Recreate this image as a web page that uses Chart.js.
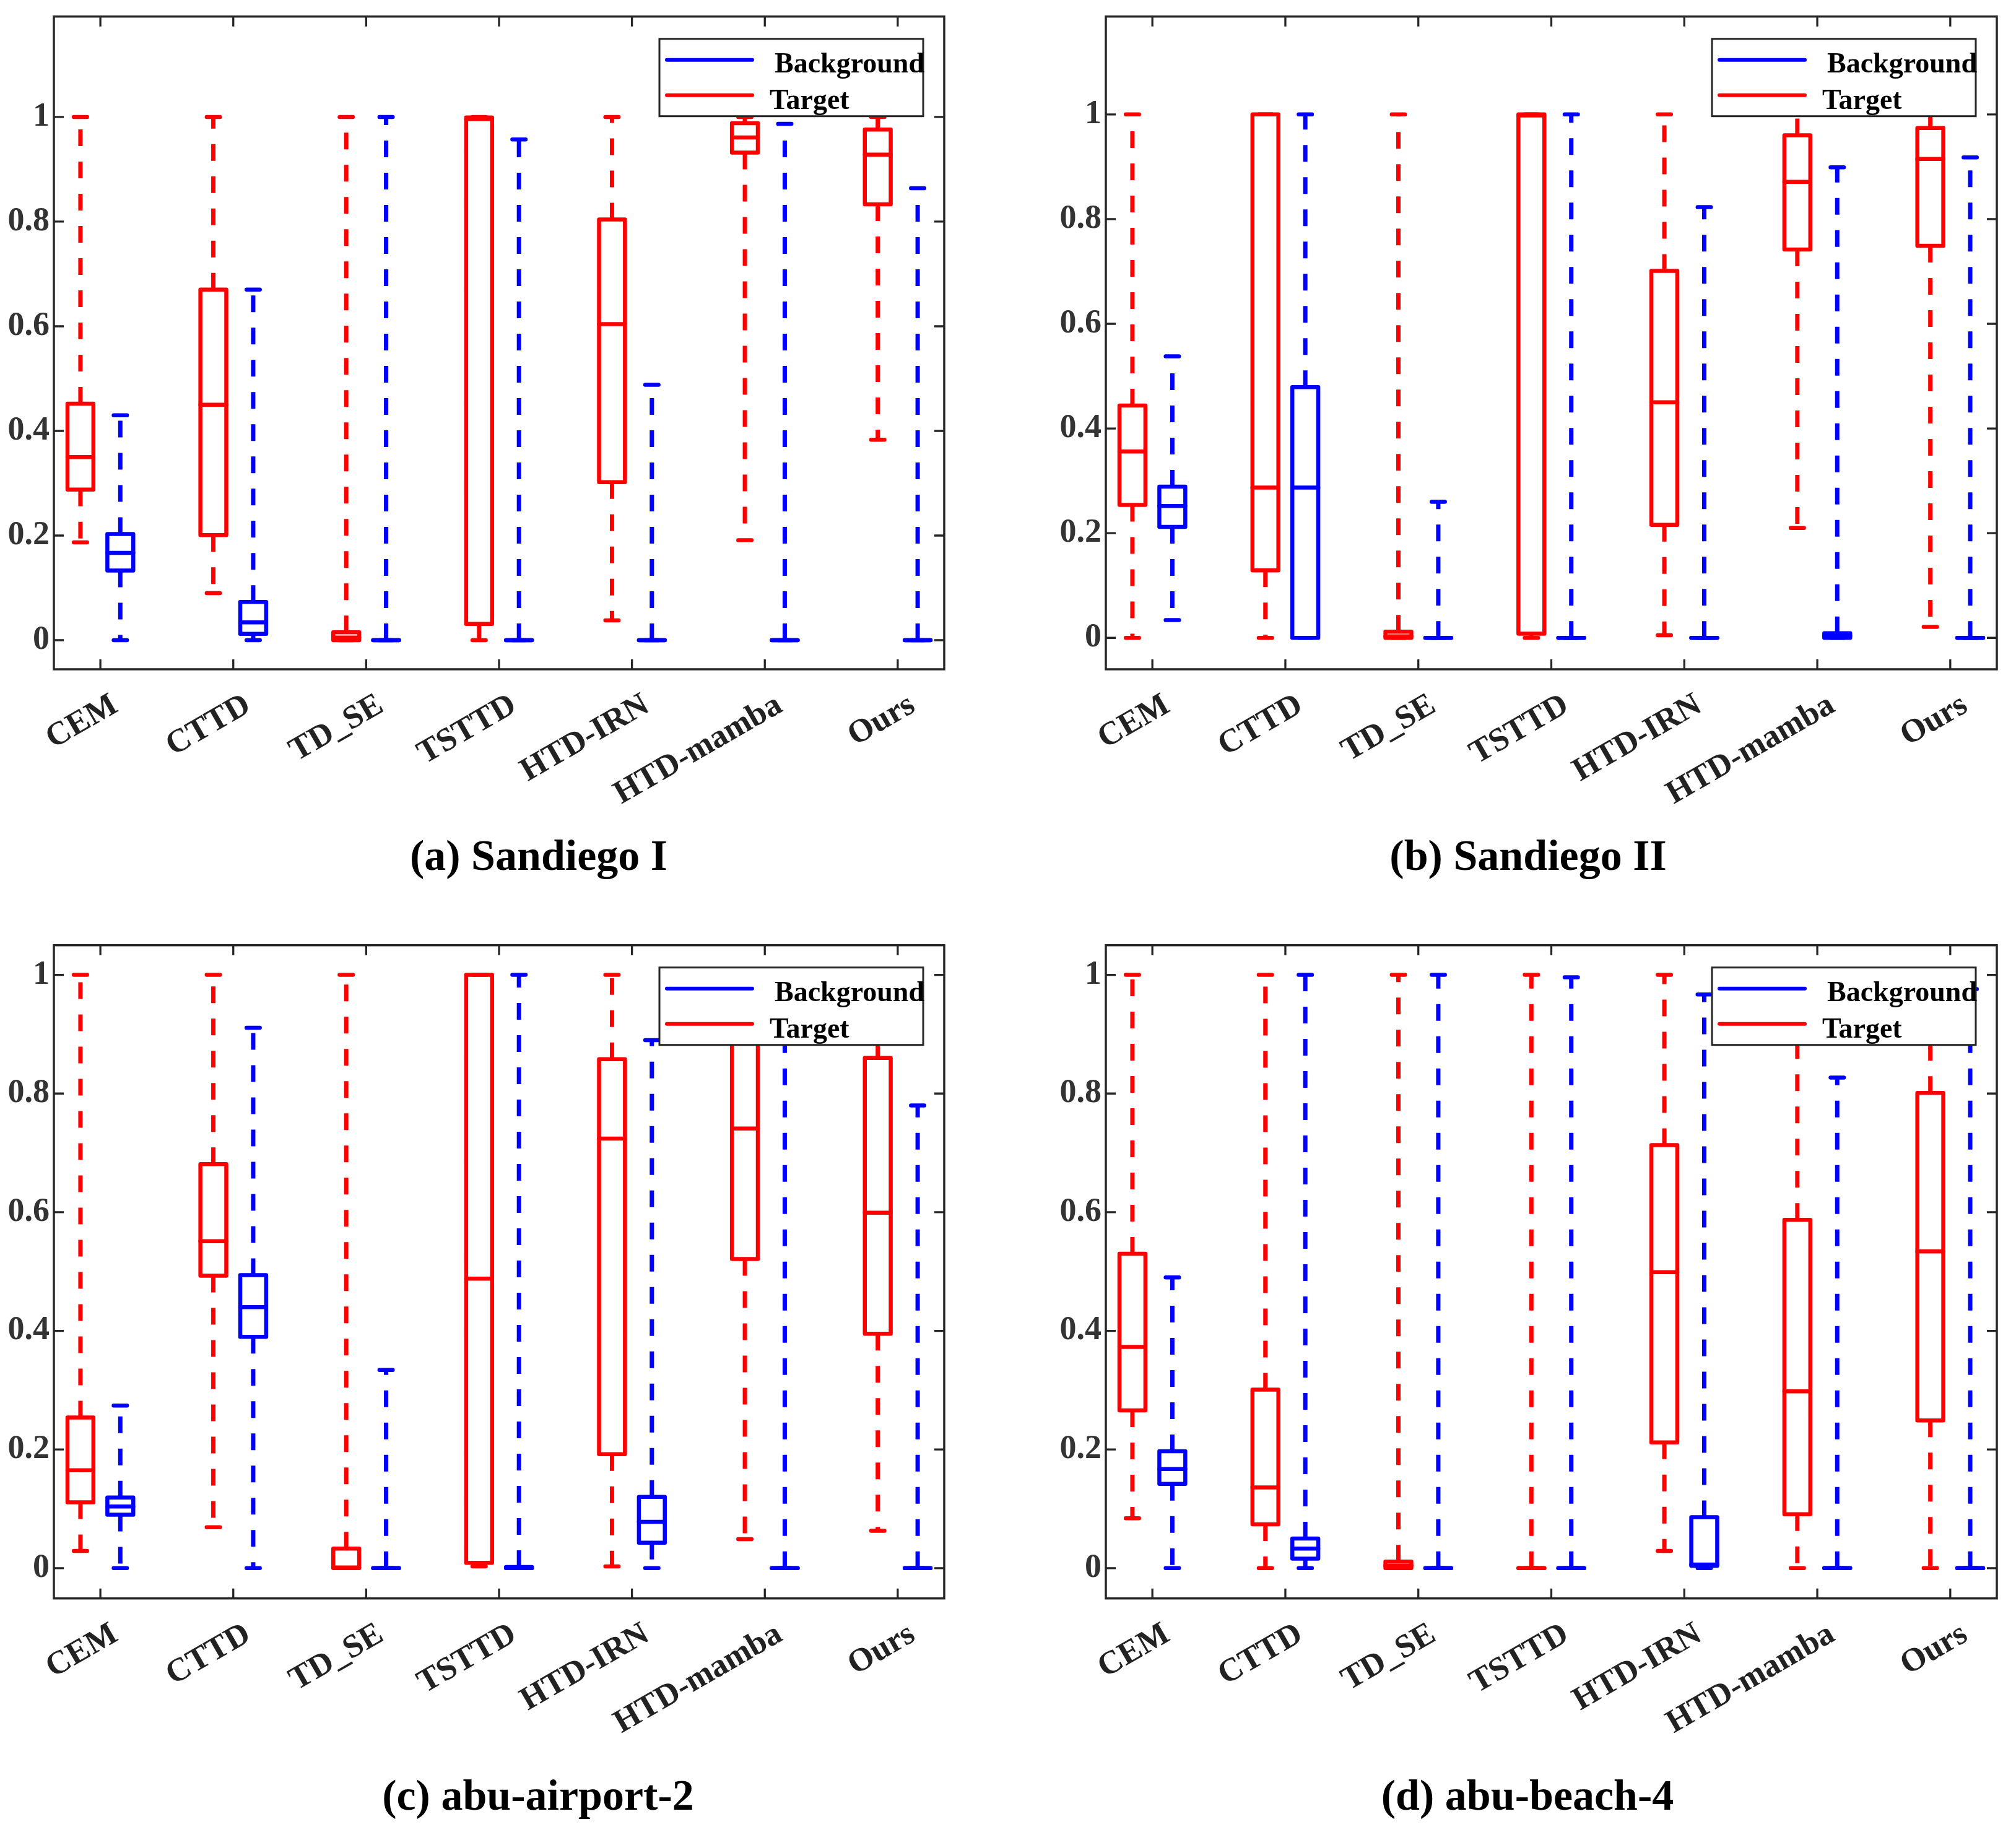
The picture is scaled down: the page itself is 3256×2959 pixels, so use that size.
<!DOCTYPE html>
<html>
<head>
<meta charset="utf-8">
<script src="https://cdn.jsdelivr.net/npm/chart.js@4.4.1/dist/chart.umd.min.js"></script>
<style>
  html, body { margin: 0; padding: 0; background: #fff; }
  #page { position: relative; width: 3256px; height: 2959px; background: #fff; overflow: hidden; }
  #page canvas { position: absolute; }
  .sub { position: absolute; transform: translate(-50%, -50%); font: bold 70px "Liberation Serif", "Times New Roman", serif; color: #000; white-space: nowrap; }
</style>
</head>
<body>
<div id="page"></div>
<script>
// categories and ticks
const methods = ["CEM", "CTTD", "TD_SE", "TSTTD", "HTD-IRN", "HTD-mamba", "Ours"];
const yTicks = [0, 0.2, 0.4, 0.6, 0.8, 1];
const yTickLabels = ["0", "0.2", "0.4", "0.6", "0.8", "1"];
const seriesNames = ["Background", "Target"];
const titles = ["(a) Sandiego I", "(b) Sandiego II", "(c) abu-airport-2", "(d) abu-beach-4"];

// five-number summaries per method: [min, q1, median, q3, max]
const sandiego1Target = [
  [0.187, 0.288, 0.350, 0.452, 1.0],
  [0.090, 0.201, 0.450, 0.670, 1.0],
  [0.0, 0.0, 0.005, 0.015, 1.0],
  [0.0, 0.031, 0.996, 0.999, 1.0],
  [0.038, 0.302, 0.604, 0.804, 1.0],
  [0.191, 0.932, 0.961, 0.988, 1.0],
  [0.383, 0.833, 0.928, 0.976, 1.0]
];
const sandiego1Background = [
  [0.0, 0.133, 0.167, 0.203, 0.430],
  [0.0, 0.012, 0.034, 0.073, 0.670],
  [0.0, 0.0, 0.0, 0.0, 1.0],
  [0.0, 0.0, 0.0, 0.0, 0.957],
  [0.0, 0.0, 0.0, 0.0, 0.488],
  [0.0, 0.0, 0.0, 0.0, 0.987],
  [0.0, 0.0, 0.0, 0.0, 0.864]
];
const sandiego2Target = [
  [0.0, 0.254, 0.356, 0.444, 1.0],
  [0.0, 0.129, 0.287, 1.0, 1.0],
  [0.0, 0.0, 0.003, 0.012, 1.0],
  [0.0, 0.008, 0.998, 1.0, 1.0],
  [0.005, 0.216, 0.450, 0.701, 1.0],
  [0.210, 0.742, 0.871, 0.960, 1.0],
  [0.021, 0.749, 0.915, 0.974, 1.0]
];
const sandiego2Background = [
  [0.034, 0.212, 0.252, 0.289, 0.538],
  [0.0, 0.0, 0.287, 0.479, 1.0],
  [0.0, 0.0, 0.0, 0.0, 0.260],
  [0.0, 0.0, 0.0, 0.0, 1.0],
  [0.0, 0.0, 0.0, 0.0, 0.823],
  [0.0, 0.0, 0.004, 0.009, 0.899],
  [0.0, 0.0, 0.0, 0.0, 0.918]
];
const airportTarget = [
  [0.029, 0.111, 0.165, 0.254, 1.0],
  [0.069, 0.493, 0.551, 0.681, 1.0],
  [0.0, 0.0, 0.001, 0.033, 1.0],
  [0.003, 0.009, 0.488, 1.0, 1.0],
  [0.003, 0.192, 0.724, 0.858, 1.0],
  [0.049, 0.521, 0.741, 0.950, 1.0],
  [0.063, 0.395, 0.599, 0.860, 1.0]
];
const airportBackground = [
  [0.0, 0.090, 0.104, 0.119, 0.274],
  [0.0, 0.390, 0.440, 0.494, 0.911],
  [0.0, 0.0, 0.0, 0.0, 0.334],
  [0.0, 0.0, 0.0, 0.002, 1.0],
  [0.0, 0.043, 0.078, 0.120, 0.890],
  [0.0, 0.0, 0.0, 0.0, 1.0],
  [0.0, 0.0, 0.0, 0.0, 0.780]
];
const beachTarget = [
  [0.084, 0.266, 0.373, 0.530, 1.0],
  [0.0, 0.074, 0.136, 0.301, 1.0],
  [0.0, 0.0, 0.004, 0.011, 1.0],
  [0.0, 0.0, 0.0, 0.0, 1.0],
  [0.029, 0.212, 0.499, 0.713, 1.0],
  [0.0, 0.091, 0.298, 0.587, 1.0],
  [0.0, 0.249, 0.534, 0.801, 1.0]
];
const beachBackground = [
  [0.0, 0.142, 0.167, 0.197, 0.490],
  [0.0, 0.016, 0.033, 0.050, 1.0],
  [0.0, 0.0, 0.0, 0.0, 1.0],
  [0.0, 0.0, 0.0, 0.0, 0.996],
  [0.0, 0.004, 0.006, 0.086, 0.967],
  [0.0, 0.0, 0.0, 0.0, 0.827],
  [0.0, 0.0, 0.0, 0.0, 0.976]
];

// y-axis limits of each panel (MATLAB autoscale)
const yLimits = [[-0.0556, 1.192], [-0.060, 1.187], [-0.051, 1.050], [-0.051, 1.050]];

// ---- styling / layout ----
const RED = "#ff0000";
const BLUE = "#0000ff";
const AXIS = "#262626";
const SERIF = '"Liberation Serif", "Times New Roman", serif';
const groupShift = 0.15;  // red left, blue right of the tick
const boxHalf = 0.0975;
const capHalf = 0.05;

const panels = [
  { left: 0,    top: 0,    w: 1628, h: 1450, area: { l: 87,  t: 26.7, r: 1525, b: 1081 },   tx: 870,  ty: 1382 },
  { left: 1628, top: 0,    w: 1628, h: 1450, area: { l: 158, t: 26.7, r: 1597, b: 1081 },   tx: 2468, ty: 1382 },
  { left: 0,    top: 1480, w: 1628, h: 1479, area: { l: 87,  t: 46.7, r: 1525, b: 1101.7 }, tx: 869,  ty: 2900 },
  { left: 1628, top: 1480, w: 1628, h: 1479, area: { l: 158, t: 46.7, r: 1597, b: 1101.7 }, tx: 2467, ty: 2900 }
];
const panelData = [
  [sandiego1Target, sandiego1Background],
  [sandiego2Target, sandiego2Background],
  [airportTarget, airportBackground],
  [beachTarget, beachBackground]
];

// turn summaries into line paths (null breaks the path)
function boxPaths(stats, shift) {
  const whisk = [], caps = [], box = [], med = [];
  stats.forEach(function (s, i) {
    const lo = s[0], q1 = s[1], m = s[2], q3 = s[3], hi = s[4];
    const x = i + shift;
    whisk.push({ x: x, y: q3 }, { x: x, y: hi }, { x: x, y: null },
               { x: x, y: q1 }, { x: x, y: lo }, { x: x, y: null });
    caps.push({ x: x - capHalf, y: hi }, { x: x + capHalf, y: hi }, { x: x, y: null },
              { x: x - capHalf, y: lo }, { x: x + capHalf, y: lo }, { x: x, y: null });
    box.push({ x: x - boxHalf, y: q1 }, { x: x - boxHalf, y: q3 }, { x: x + boxHalf, y: q3 },
             { x: x + boxHalf, y: q1 }, { x: x - boxHalf, y: q1 }, { x: x, y: null });
    med.push({ x: x - boxHalf, y: m }, { x: x + boxHalf, y: m }, { x: x, y: null });
  });
  return { whisk: whisk, caps: caps, box: box, med: med };
}

function lineSet(data, color, width, dash, cap) {
  return {
    type: "line",
    data: data,
    borderColor: color,
    borderWidth: width,
    borderDash: dash || [],
    borderCapStyle: cap || "round",
    borderJoinStyle: "round",
    pointRadius: 0,
    pointHoverRadius: 0,
    spanGaps: false,
    tension: 0,
    fill: false
  };
}

function groupSets(stats, shift, color) {
  const p = boxPaths(stats, shift);
  return [
    lineSet(p.whisk, color, 7, [27, 25], "butt"),
    lineSet(p.caps, color, 6.5),
    lineSet(p.box, color, 6.5),
    lineSet(p.med, color, 6.5)
  ];
}

// legend box inside the plot, top right
const boxLegend = {
  id: "boxLegend",
  afterDatasetsDraw(chart) {
    const ctx = chart.ctx, a = chart.chartArea;
    const w = 426, h = 125;
    const L = a.right - 34 - w, T = a.top + 36;
    ctx.save();
    ctx.fillStyle = "#fff";
    ctx.fillRect(L, T, w, h);
    ctx.strokeStyle = AXIS;
    ctx.lineWidth = 3;
    ctx.strokeRect(L, T, w, h);
    const colors = [BLUE, RED];
    const rows = [{ ly: 34, tx: 186, ty: 54 }, { ly: 91, tx: 178, ty: 113 }];
    ctx.lineCap = "round";
    ctx.font = "bold 46px " + SERIF;
    ctx.textBaseline = "alphabetic";
    ctx.textAlign = "left";
    seriesNames.forEach(function (name, i) {
      const r = rows[i];
      ctx.strokeStyle = colors[i];
      ctx.lineWidth = 6;
      ctx.beginPath();
      ctx.moveTo(L + 12, T + r.ly);
      ctx.lineTo(L + 150, T + r.ly);
      ctx.stroke();
      ctx.fillStyle = "#000";
      ctx.fillText(name, L + r.tx, T + r.ty);
    });
    ctx.restore();
  }
};

// axes box with inward ticks on all four sides
const frame = {
  id: "frame",
  afterDraw(chart) {
    const ctx = chart.ctx, a = chart.chartArea;
    const xs = chart.scales.x, ys = chart.scales.y;
    const tl = 16;
    ctx.save();
    ctx.strokeStyle = AXIS;
    ctx.lineWidth = 3.3;
    ctx.beginPath();
    methods.forEach(function (m, i) {
      const px = xs.getPixelForValue(i);
      ctx.moveTo(px, a.bottom); ctx.lineTo(px, a.bottom - tl);
      ctx.moveTo(px, a.top); ctx.lineTo(px, a.top + tl);
    });
    yTicks.forEach(function (v) {
      const py = ys.getPixelForValue(v);
      ctx.moveTo(a.left, py); ctx.lineTo(a.left + tl, py);
      ctx.moveTo(a.right, py); ctx.lineTo(a.right - tl, py);
    });
    ctx.stroke();
    ctx.lineWidth = 3.5;
    ctx.strokeRect(a.left, a.top, a.right - a.left, a.bottom - a.top);
    ctx.restore();
  }
};

const page = document.getElementById("page");

panels.forEach(function (pn, k) {
  const canvas = document.createElement("canvas");
  canvas.width = pn.w;
  canvas.height = pn.h;
  canvas.style.left = pn.left + "px";
  canvas.style.top = pn.top + "px";
  canvas.style.width = pn.w + "px";
  canvas.style.height = pn.h + "px";
  page.appendChild(canvas);

  const title = document.createElement("div");
  title.className = "sub";
  title.style.left = pn.tx + "px";
  title.style.top = pn.ty + "px";
  title.textContent = titles[k];
  page.appendChild(title);

  const target = panelData[k][0], background = panelData[k][1];
  const datasets = groupSets(target, -groupShift, RED).concat(groupSets(background, groupShift, BLUE));

  new Chart(canvas.getContext("2d"), {
    type: "line",
    data: { datasets: datasets },
    plugins: [boxLegend, frame],
    options: {
      responsive: false,
      animation: false,
      devicePixelRatio: 1,
      events: [],
      layout: { padding: { left: 0, top: pn.area.t, right: pn.w - pn.area.r, bottom: 0 } },
      plugins: { legend: { display: false }, tooltip: { enabled: false }, title: { display: false } },
      scales: {
        x: {
          type: "linear",
          min: -0.35,
          max: 6.35,
          offset: false,
          grid: { display: false, drawTicks: false },
          border: { display: false },
          afterBuildTicks: function (s) { s.ticks = methods.map(function (m, i) { return { value: i }; }); },
          afterFit: function (s) { s.height = pn.h - pn.area.b; s.paddingLeft = 0; s.paddingRight = 0; },
          ticks: {
            autoSkip: false,
            minRotation: 30,
            maxRotation: 30,
            padding: 27,
            labelOffset: 24,
            color: "#222",
            font: { family: SERIF, size: 53, weight: "bold" },
            callback: function (v) { return methods[v] !== undefined ? methods[v] : ""; }
          }
        },
        y: {
          type: "linear",
          min: yLimits[k][0],
          max: yLimits[k][1],
          grid: { display: false, drawTicks: false },
          border: { display: false },
          afterBuildTicks: function (s) { s.ticks = yTicks.map(function (v) { return { value: v }; }); },
          afterFit: function (s) { s.width = pn.area.l; s.paddingTop = 0; s.paddingBottom = 0; },
          ticks: {
            padding: 7,
            color: "#333",
            font: { family: SERIF, size: 54, weight: "bold" },
            callback: function (v) { const i = yTicks.indexOf(v); return i >= 0 ? yTickLabels[i] : ""; }
          }
        }
      }
    }
  });
});
</script>
</body>
</html>
